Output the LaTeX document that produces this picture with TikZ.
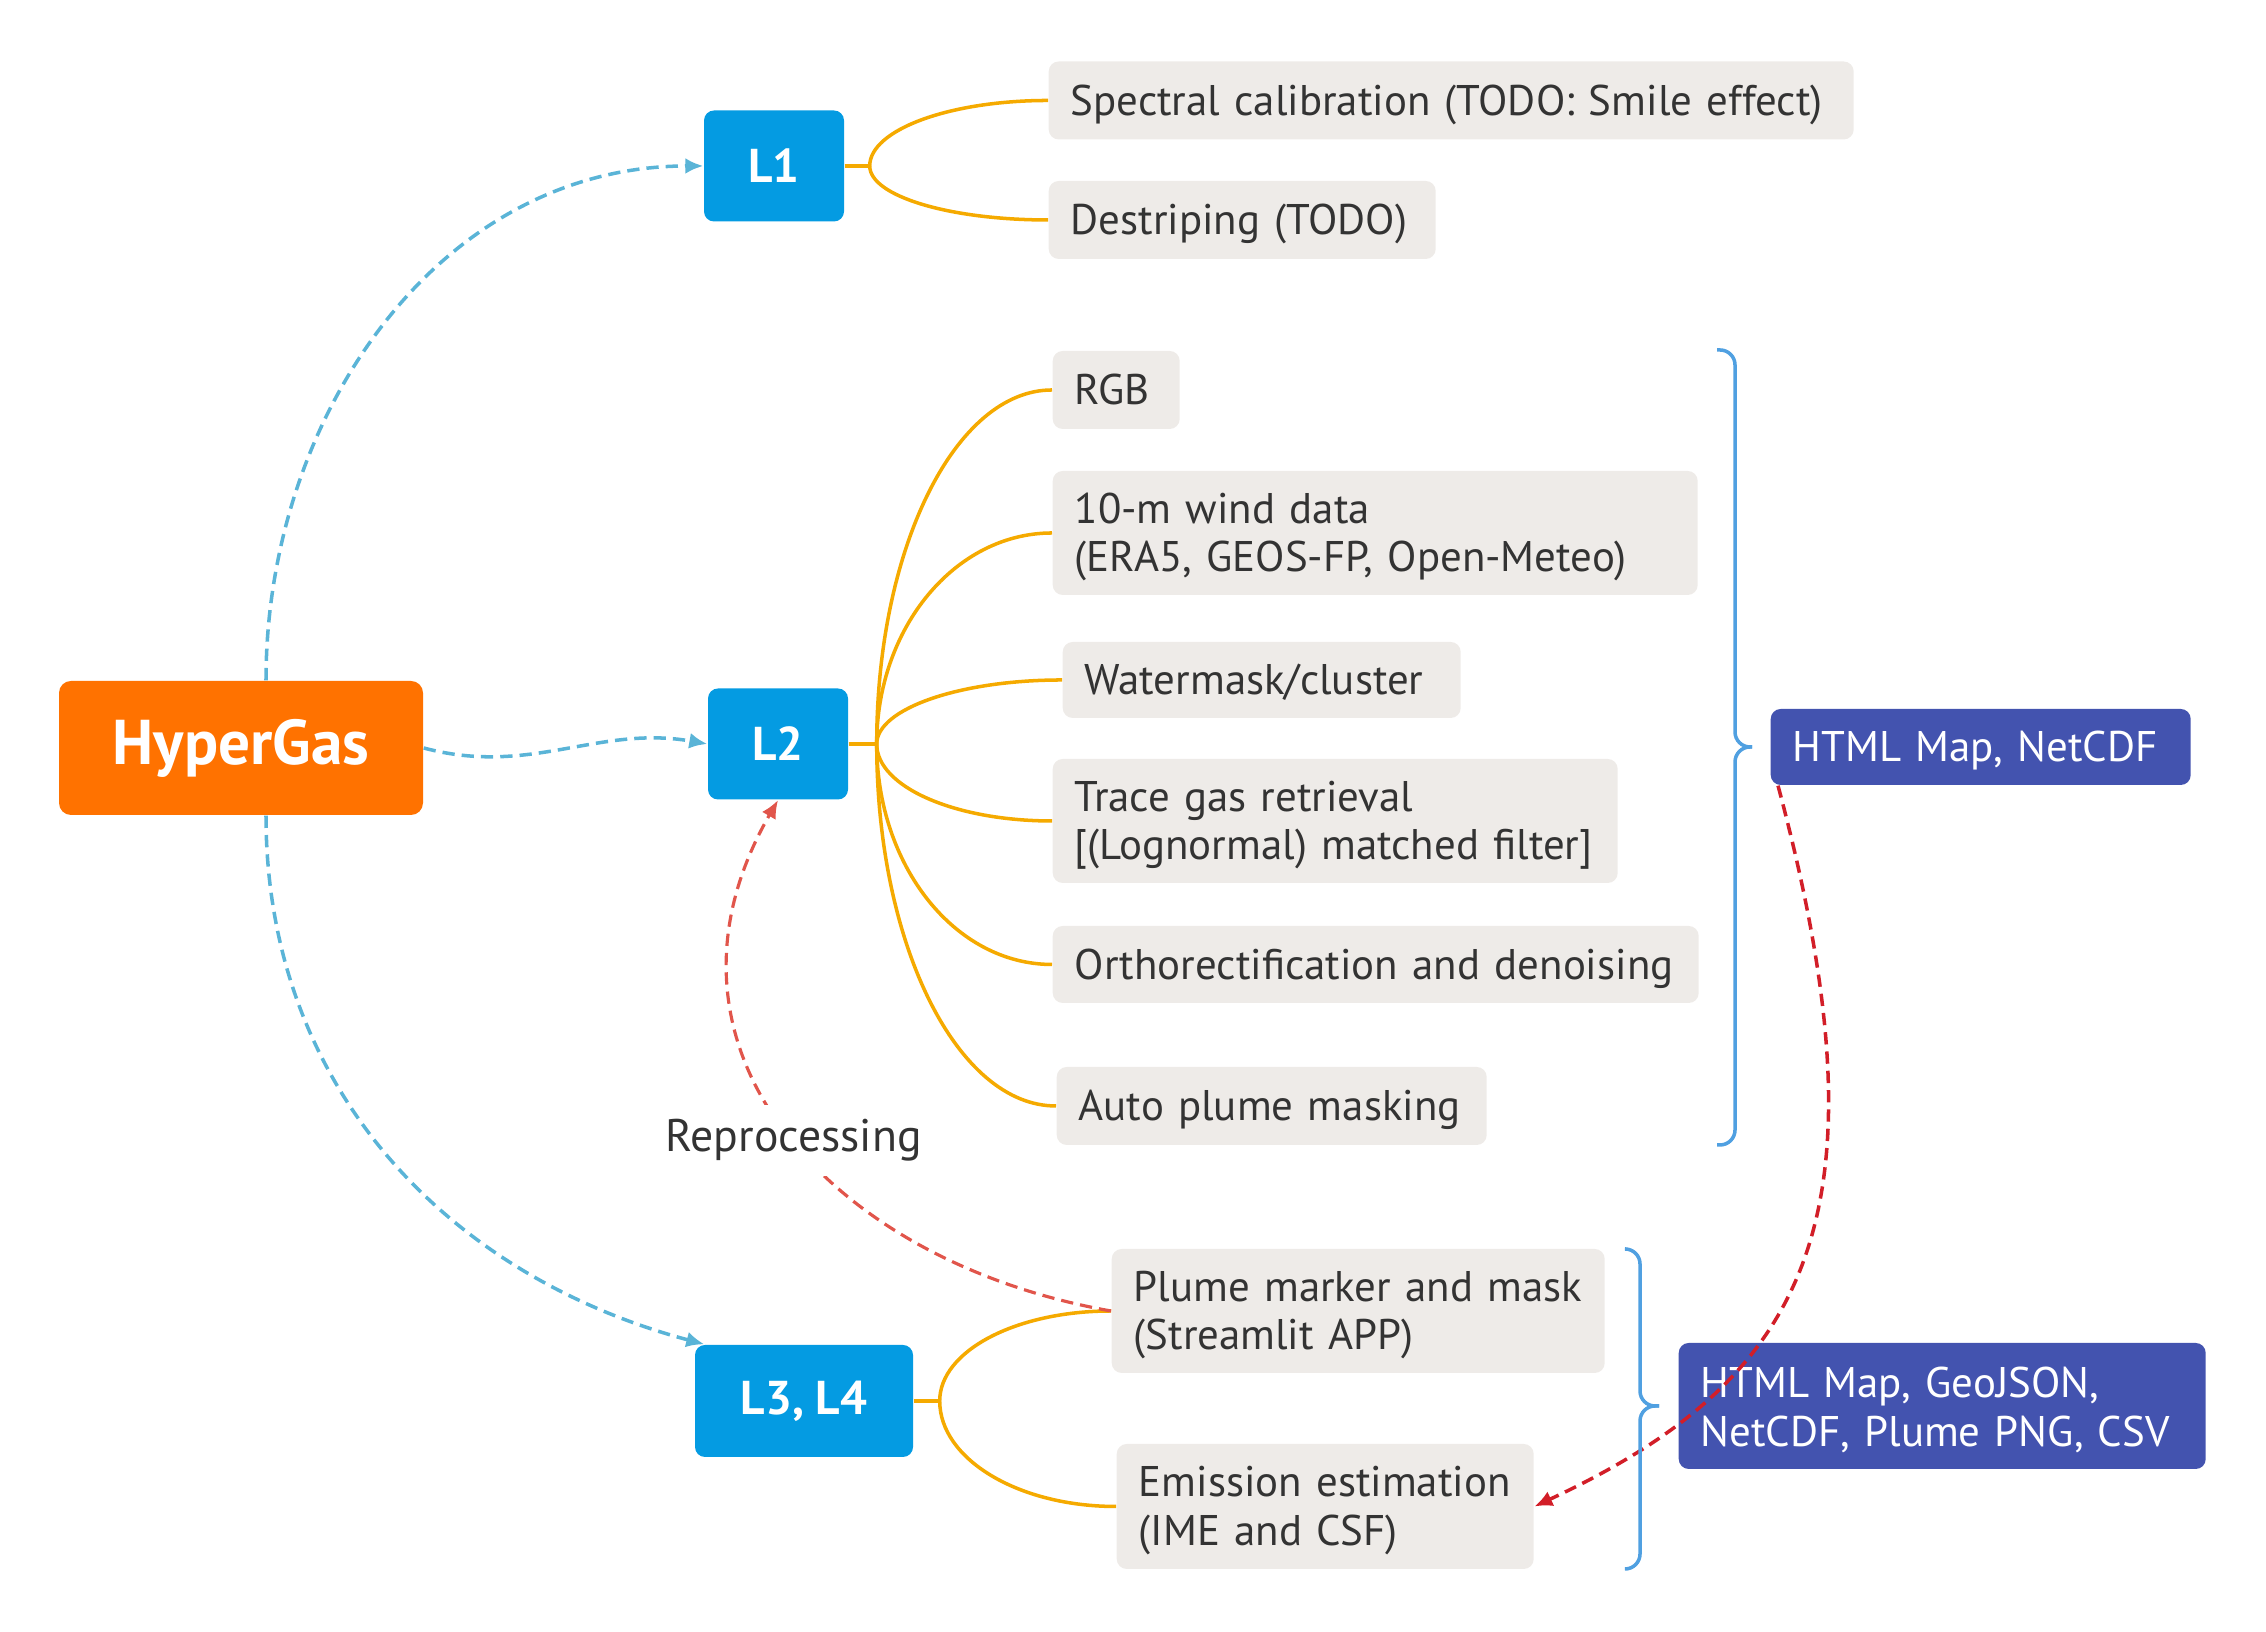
\documentclass[tikz,border=0pt]{standalone}
\usepackage{fontspec}
\setmainfont{PT Sans}
\usetikzlibrary{arrows.meta,positioning}
\definecolor{hgorange}{RGB}{255,114,0}
\definecolor{levelblue}{RGB}{4,155,226}
\definecolor{leafgray}{RGB}{238,235,232}
\definecolor{outblue}{RGB}{67,83,175}
\definecolor{textgray}{RGB}{51,51,51}
\definecolor{linkorange}{RGB}{245,170,0}
\definecolor{flowblue}{RGB}{90,180,215}
\definecolor{braceblue}{RGB}{80,160,225}
\definecolor{redolight}{RGB}{225,85,75}
\definecolor{redodark}{RGB}{210,30,40}
\newcommand{\leafstrut}{\hyphenpenalty=10000\exhyphenpenalty=10000\rule[-2.5pt]{0pt}{13.5pt}}

\begin{document}
\begin{tikzpicture}[
  font=\fontsize{12.2}{13.8}\selectfont,
  root/.style={fill=hgorange,text=white,rounded corners=1.2mm,minimum width=3.64cm,minimum height=1.34cm,font=\fontsize{18}{20}\selectfont\bfseries},
  level/.style={fill=levelblue,text=white,rounded corners=1mm,minimum width=1.4cm,minimum height=1.11cm,font=\fontsize{13.5}{16}\selectfont\bfseries},
  leaf/.style={fill=leafgray,text=textgray,rounded corners=1mm,anchor=west,align=left,inner xsep=2.2mm,inner ysep=1pt,minimum height=0.78cm,execute at begin node=\leafstrut},
  outbox/.style={fill=outblue,text=white,rounded corners=1mm,align=left,inner xsep=2.2mm,inner ysep=1pt,execute at begin node=\leafstrut},
  link/.style={draw=linkorange,line width=1pt},
  flow/.style={draw=flowblue,line width=1pt,dash pattern=on 3.5pt off 2pt,-{Latex[length=1.8mm,width=1.6mm]}},
  redo/.style={draw=redolight,line width=0.9pt,dash pattern=on 3.5pt off 2pt,-{Latex[length=1.8mm,width=1.6mm]}},
  back/.style={draw=redodark,line width=1pt,dash pattern=on 3.5pt off 2pt,-{Latex[length=1.8mm,width=1.6mm]}},
  brace/.style={draw=braceblue,line width=1pt,rounded corners=1.5mm}
]
\useasboundingbox (0,0) rectangle (22.66,16.32);
\node[root] (root) at (2.41,8.84) {HyperGas};
\node[level] (l1) at (7.74,14.66) {L1};
\node[level] (l2) at (7.78,8.88) {L2};
\node[level,minimum width=2.18cm,minimum height=1.12cm] (l3) at (8.04,2.31) {L3, L4};
\node[leaf,text width=7.61cm] (spec) at (10.48,15.315) {Spectral calibration (TODO: Smile effect)};
\node[leaf,text width=3.43cm] (destr) at (10.48,14.12) {Destriping (TODO)};
\node[leaf,text width=0.83cm] (rgb) at (10.52,12.42) {RGB};
\node[leaf,text width=6.01cm,minimum height=1.24cm] (wind) at (10.52,10.99) {10-m wind data\\(ERA5, GEOS-FP, Open-Meteo)};
\node[leaf,text width=3.54cm,minimum height=0.76cm] (water) at (10.62,9.52) {Watermask/cluster};
\node[leaf,text width=5.21cm,minimum height=1.24cm] (trace) at (10.52,8.11) {Trace gas retrieval\\{[}(Lognormal) matched filter{]}};
\node[leaf,text width=6.02cm,minimum height=0.77cm] (ortho) at (10.52,6.675) {Orthorectification and denoising};
\node[leaf,text width=3.86cm] (auto) at (10.56,5.26) {Auto plume masking};
\node[leaf,text width=4.49cm,minimum height=1.24cm] (plume) at (11.11,3.21) {Plume marker and mask\\(Streamlit APP)};
\node[leaf,text width=3.73cm,minimum height=1.25cm] (emis) at (11.16,1.255) {Emission estimation\\(IME and CSF)};
\coordinate (tip1) at (17.52,8.85);
\coordinate (tip2) at (16.59,2.26);
\node[outbox,text width=3.76cm,minimum height=0.76cm,right=1.8mm of tip1] (html1) {HTML Map, NetCDF};
\node[outbox,text width=4.83cm,minimum height=1.26cm,right=1.9mm of tip2] (html2) {HTML Map, GeoJSON,\\NetCDF, Plume PNG, CSV};
\coordinate[right=2.5mm of l1] (j1);
\coordinate[right=2.8mm of l2] (j2);
\coordinate[right=2.6mm of l3] (j3);
\draw[link] (l1.east) -- (j1);
\draw[link] (l2.east) -- (j2);
\draw[link] (l3.east) -- (j3);
\foreach \n/\o/\a/\b in {spec/90/0.36/0.99,destr/-90/0.30/0.99}
  \draw[link] (j1) to[out=\o,in=180,out distance=\a cm,in distance=\b cm] (\n.west);
\foreach \n/\o/\a/\b in {rgb/90/1.95/0.97,wind/90/1.16/0.97,water/90/0.35/1.03,trace/-90/0.43/0.97,ortho/-90/1.22/0.97,auto/-90/2.0/0.99}
  \draw[link] (j2) to[out=\o,in=180,out distance=\a cm,in distance=\b cm] (\n.west);
\foreach \n/\o/\a/\b in {plume/90/0.5/0.95,emis/-90/0.58/0.98}
  \draw[link] (j3) to[out=\o,in=180,out distance=\a cm,in distance=\b cm] (\n.west);
\draw[flow] ([xshift=2.5mm]root.north) to[out=90,in=180] (l1.west);
\draw[flow] (root.east) to[out=-15,in=170] (l2.west);
\draw[flow] ([xshift=2.5mm]root.south) to[out=-90,in=165] ([xshift=1mm]l3.north west);
\draw[redo] (plume.west) to[out=170,in=-120,looseness=1.2] node[pos=0.48,fill=white,text=textgray,inner sep=4pt,font=\fontsize{13}{15}\selectfont] {Reprocessing} (l2.south);
\draw[back] ([xshift=0.8mm]html1.south west) .. controls +(-75:4.5) and +(25:3) .. (emis.east);
\draw[brace] (tip1) -- ++(-0.17,0) -- ++(0,3.97) -- ++(-0.18,0);
\draw[brace] (tip1) -- ++(-0.17,0) -- ++(0,-3.98) -- ++(-0.18,0);
\draw[brace] (tip2) -- ++(-0.19,0) -- ++(0,1.57) -- ++(-0.14,0);
\draw[brace] (tip2) -- ++(-0.19,0) -- ++(0,-1.63) -- ++(-0.14,0);
\end{tikzpicture}
\end{document}
